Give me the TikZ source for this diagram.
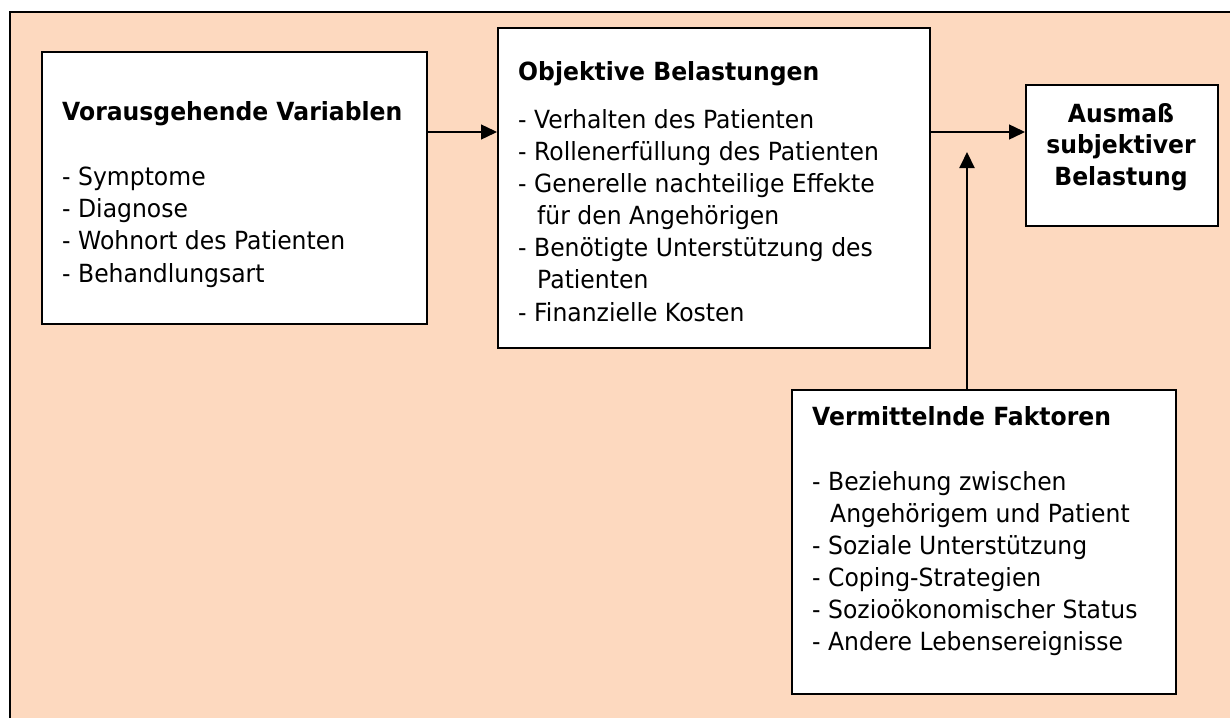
\documentclass[tikz,border=0pt]{standalone}
\usepackage{fontspec}
\setmainfont[FakeStretch=0.94]{DejaVu Sans}
\usetikzlibrary{arrows.meta}
\definecolor{peach}{RGB}{253,217,191}
\tikzset{
  box/.style={draw=black,line width=1.8pt,fill=white,anchor=north west,inner sep=0pt},
  txt/.style={anchor=base west,inner sep=0pt,font=\fontsize{25}{32}\selectfont},
  ttl/.style={txt,font=\fontsize{25}{32}\selectfont\bfseries},
  arr/.style={line width=1.4pt,-{Triangle[length=16pt,width=15pt]}}
}
\begin{document}
\begin{tikzpicture}[x=1pt,y=-1pt]
\useasboundingbox (0,0) rectangle (1230,718);
\fill[white] (0,0) rectangle (1230,718);
\fill[peach] (10,12) rectangle (1230,718);
\draw[line width=2.5pt] (10,718) -- (10,12) -- (1230,12);
\node[box,minimum width=385,minimum height=272] (vor) at (41,51) {};
\node[box,minimum width=432,minimum height=320] (obj) at (497,27) {};
\node[box,minimum width=192,minimum height=141] (aus) at (1025,84) {};
\node[box,minimum width=384,minimum height=304] (verm) at (791,389) {};
\node[ttl] (vor-t) at (62,120) {Vorausgehende Variablen};
\foreach \y/\t [count=\i] in {185/- Symptome,217/- Diagnose,249/- Wohnort des Patienten,282/- Behandlungsart}
  \node[txt] (vor-\i) at (62,\y) {\t};
\node[ttl] (obj-t) at (518,80) {Objektive Belastungen};
\foreach \x/\y/\t [count=\i] in {518/128/- Verhalten des Patienten,518/160/- Rollenerfüllung des Patienten,518/192/- Generelle nachteilige Effekte,537/224/für den Angehörigen,518/256/- Benötigte Unterstützung des,537/288/Patienten,518/321/- Finanzielle Kosten}
  \node[txt] (obj-\i) at (\x,\y) {\t};
\foreach \y/\t [count=\i] in {122/Ausmaß,153/subjektiver,185/Belastung}
  \node[ttl,anchor=base] (aus-\i) at (1121,\y) {\t};
\node[ttl] (verm-t) at (812,425) {Vermittelnde Faktoren};
\foreach \x/\y/\t [count=\i] in {812/490/- Beziehung zwischen,830/522/Angehörigem und Patient,812/554/- Soziale Unterstützung,812/586/- Coping-Strategien,812/618/- Sozioökonomischer Status,812/650/- Andere Lebensereignisse}
  \node[txt] (verm-\i) at (\x,\y) {\t};
\coordinate (lvl) at (0,132);
\coordinate (tip) at (967,152);
\draw[arr] (vor.east |- lvl) -- (obj.west |- lvl);
\draw[arr] (obj.east |- lvl) -- (aus.west |- lvl);
\draw[arr,line width=2pt] (verm.north -| tip) -- (tip);
\end{tikzpicture}
\end{document}
